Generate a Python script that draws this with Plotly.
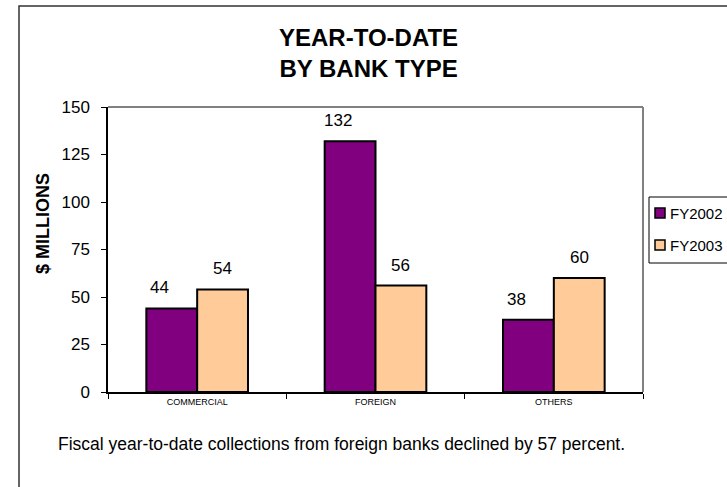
import plotly.graph_objects as go

# ---- data ----
categories = ["COMMERCIAL", "FOREIGN", "OTHERS"]
series_names = ["FY2002", "FY2003"]
fy2002 = [44, 132, 38]
fy2003 = [54, 56, 60]
y_ticks = [0, 25, 50, 75, 100, 125, 150]
title_lines = ["YEAR-TO-DATE", "BY BANK TYPE"]
y_title = "$ MILLIONS"
footnote = "Fiscal year-to-date collections from foreign banks declined by 57 percent."

# ---- style ----
W, H = 727, 487
L, R, T, B = 108, 643, 107, 392  # plot area in px
colors = ["#800080", "#FFCC99"]
FONT = "Liberation Sans, Arial, sans-serif"
bargap = 0.43


def px_x(px):
    return (px - L) / (R - L)


def px_y(py):
    return (B - py) / (B - T)


fig = go.Figure()
for name, vals, col in zip(series_names, [fy2002, fy2003], colors):
    fig.add_trace(go.Bar(
        x=categories, y=vals, name=name,
        marker=dict(color=col, line=dict(color="black", width=2)),
        showlegend=False,
    ))

cat_px = (R - L) / len(categories)
bar_px = cat_px * (1 - bargap) / 2

annotations = []
# data labels
for i, (vals, dx) in enumerate([(fy2002, -bar_px / 2 - 12), (fy2003, bar_px / 2)]):
    for c, v in zip(categories, vals):
        annotations.append(dict(
            x=c, y=v, xref="x", yref="y", text=str(v), showarrow=False,
            xshift=dx, yshift=9, yanchor="bottom", xanchor="center",
            font=dict(family=FONT, size=17, color="black"),
        ))

# title
annotations.append(dict(
    x=px_x(368), y=px_y(53), xref="paper", yref="paper",
    text="<br>".join(f"<b>{t}</b>" for t in title_lines), showarrow=False,
    xanchor="center", yanchor="middle",
    font=dict(family=FONT, size=24, color="black"),
))
# y-axis title
annotations.append(dict(
    x=px_x(43), y=px_y(224), xref="paper", yref="paper",
    text=f"<b>{y_title}</b>", showarrow=False, textangle=-90,
    xanchor="center", yanchor="middle",
    font=dict(family=FONT, size=18, color="black"),
))
# footnote
annotations.append(dict(
    x=px_x(56), y=px_y(444), xref="paper", yref="paper",
    text=footnote, showarrow=False, xanchor="left", yanchor="middle",
    font=dict(family=FONT, size=17.5, color="black"),
))

shapes = [
    # outer frame
    dict(type="rect", xref="paper", yref="paper",
         x0=px_x(19), x1=px_x(760), y0=px_y(6), y1=px_y(520),
         line=dict(color="#333333", width=1.5), layer="below"),
    # plot area top & right grey edges
    dict(type="line", xref="paper", yref="paper", x0=0, x1=1, y0=1, y1=1,
         line=dict(color="#808080", width=2)),
    dict(type="line", xref="paper", yref="paper", x0=1, x1=1, y0=0, y1=1,
         line=dict(color="#808080", width=2)),
    # legend box
    dict(type="rect", xref="paper", yref="paper",
         x0=px_x(649), x1=px_x(760), y0=px_y(197), y1=px_y(263),
         line=dict(color="black", width=1), fillcolor="white"),
]

# custom legend
for k, (name, col) in enumerate(zip(series_names, colors)):
    cy = 213 + 32 * k
    shapes.append(dict(type="rect", xref="paper", yref="paper",
                       x0=px_x(655), x1=px_x(665), y0=px_y(cy - 5), y1=px_y(cy + 5),
                       fillcolor=col, line=dict(color="black", width=1.5)))
    annotations.append(dict(
        x=px_x(668), y=px_y(cy), xref="paper", yref="paper", text=name,
        showarrow=False, xanchor="left", yanchor="middle",
        font=dict(family=FONT, size=15, color="black"),
    ))

fig.update_layout(
    width=W, height=H,
    margin=dict(l=L, r=W - R, t=T, b=H - B, autoexpand=False),
    paper_bgcolor="white", plot_bgcolor="white",
    barmode="group", bargap=bargap, bargroupgap=0,
    font=dict(family=FONT, color="black"),
    hovermode=False,
    xaxis=dict(
        showline=True, linecolor="black", linewidth=1.5,
        ticks="outside", ticklen=5, tickcolor="black", tickson="boundaries",
        tickfont=dict(family=FONT, size=9, color="black"),
        showgrid=False, fixedrange=True,
    ),
    yaxis=dict(
        range=[0, 150], tickvals=y_ticks,
        showline=True, linecolor="black", linewidth=1.5,
        ticks="outside", ticklen=5, tickcolor="black",
        ticklabelstandoff=8,
        tickfont=dict(family=FONT, size=17, color="black"),
        showgrid=False, zeroline=False, fixedrange=True,
    ),
    annotations=annotations, shapes=shapes,
    showlegend=False,
)

fig.write_html("out.html", config={"displayModeBar": False},
               post_script="document.body.style.margin='0px';")
